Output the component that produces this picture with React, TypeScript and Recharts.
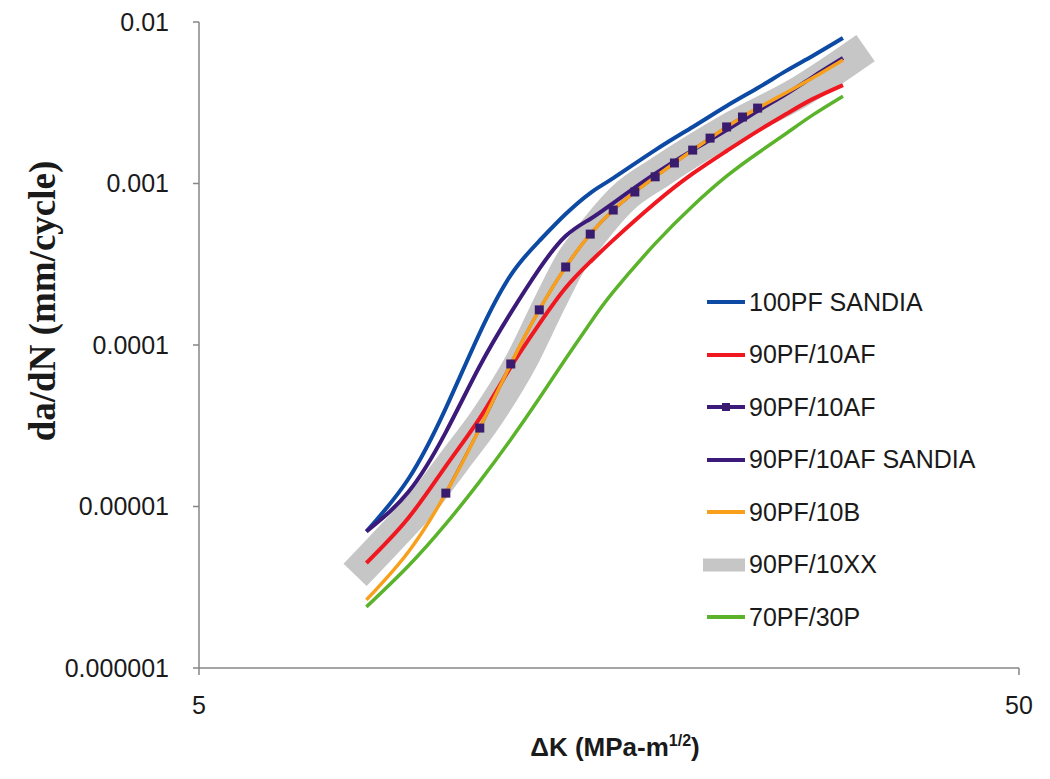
import React from 'react';
import { LineChart, Line, XAxis, YAxis, Legend } from 'recharts';

// ΔK values (MPa-m^1/2) shared by the plain curves
const kGrid = [8, 9, 10, 11, 12, 13, 14, 15, 16, 18, 20, 22, 24, 26, 28, 30.5];
const sandia100PF = [7.0e-6, 1.48e-5, 4.07e-5, 1.19e-4, 2.71e-4, 4.41e-4, 6.47e-4, 8.73e-4, 1.08e-3, 1.61e-3, 2.24e-3, 3.02e-3, 3.9e-3, 4.98e-3, 6.16e-3, 7.96e-3];
const af90PF = [4.47e-6, 8.49e-6, 1.78e-5, 3.53e-5, 7.31e-5, 1.35e-4, 2.26e-4, 3.27e-4, 4.46e-4, 7.57e-4, 1.15e-3, 1.59e-3, 2.11e-3, 2.69e-3, 3.33e-3, 4.07e-3];
const afSandia90PF = [7.0e-6, 1.23e-5, 2.89e-5, 7.41e-5, 1.58e-4, 2.96e-4, 4.73e-4, 6.03e-4, 7.57e-4, 1.15e-3, 1.61e-3, 2.14e-3, 2.81e-3, 3.58e-3, 4.56e-3, 5.98e-3];
const p70PF = [2.39e-6, 4.28e-6, 7.8e-6, 1.43e-5, 2.6e-5, 4.68e-5, 8.22e-5, 1.37e-4, 2.13e-4, 4.24e-4, 7.26e-4, 1.11e-3, 1.54e-3, 2.04e-3, 2.65e-3, 3.47e-3];

// measured points with markers
const kMarked = [10, 11, 12, 13, 14, 15, 16, 17, 18, 19, 20, 21, 22, 23, 24];
const afMarked90PF = [1.21e-5, 3.06e-5, 7.63e-5, 1.65e-4, 3.04e-4, 4.86e-4, 6.85e-4, 8.86e-4, 1.1e-3, 1.34e-3, 1.61e-3, 1.91e-3, 2.24e-3, 2.58e-3, 2.93e-3];

const kB = [8, 9, 10, 11, 12, 13, 14, 15, 16, 17, 18, 19, 20, 21, 22, 23, 24, 26, 28, 30.5];
const b90PF = [2.64e-6, 5.23e-6, 1.21e-5, 3.06e-5, 7.63e-5, 1.65e-4, 3.04e-4, 4.86e-4, 6.85e-4, 8.86e-4, 1.1e-3, 1.34e-3, 1.61e-3, 1.91e-3, 2.24e-3, 2.58e-3, 2.93e-3, 3.65e-3, 4.5e-3, 5.82e-3];

// wide grey band
const kXX = [7.75, 8.55, 9.43, 10.26, 11.16, 12.38, 13.44, 14.21, 14.99, 16.44, 18.25, 22.4, 27.0, 32.5];
const xx90PF = [3.77e-6, 6.38e-6, 1.1e-5, 1.94e-5, 3.43e-5, 8.07e-5, 1.9e-4, 3.27e-4, 4.73e-4, 8.13e-4, 1.18e-3, 2.24e-3, 3.69e-3, 6.9e-3];

const xTicks = [5, 50];
const yTicks = [0.000001, 0.00001, 0.0001, 0.001, 0.01];
const yTickLabels = ['0.000001', '0.00001', '0.0001', '0.001', '0.01'];

const toPoints = (ks: number[], vals: number[]) => ks.map((k, i) => ({ k, v: vals[i] }));

interface Series {
  id: string;
  name: string;
  data: { k: number; v: number }[];
  color: string;
  width: number;
  marker?: boolean;
  band?: boolean;
}

// drawing order (bottom first)
const series: Series[] = [
  { id: 'xx', name: '90PF/10XX', data: toPoints(kXX, xx90PF), color: '#c6c6c6', width: 32, band: true },
  { id: 's100', name: '100PF SANDIA', data: toPoints(kGrid, sandia100PF), color: '#0c4aa3', width: 4 },
  { id: 'af', name: '90PF/10AF', data: toPoints(kGrid, af90PF), color: '#f01820', width: 4 },
  { id: 'afs', name: '90PF/10AF SANDIA', data: toPoints(kGrid, afSandia90PF), color: '#3c1a7a', width: 4 },
  { id: 'afm', name: '90PF/10AF', data: toPoints(kMarked, afMarked90PF), color: '#3c1a7a', width: 3, marker: true },
  { id: 'b', name: '90PF/10B', data: toPoints(kB, b90PF), color: '#f8a01c', width: 3.5 },
  { id: 'p70', name: '70PF/30P', data: toPoints(kGrid, p70PF), color: '#5ab32a', width: 3.5 },
];

const legendOrder = ['s100', 'af', 'afm', 'afs', 'b', 'xx', 'p70'];

const SquareDot = (props: any) => {
  const { cx, cy, index } = props;
  return <rect key={`m-${index}`} x={cx - 4.5} y={cy - 4.5} width={9} height={9} fill="#3a1c6e" />;
};

const LegendBox = () => (
  <div style={{ fontFamily: '"Liberation Sans", Arial, sans-serif', fontSize: 25, color: '#1a1a1a' }}>
    {legendOrder.map((id) => {
      const s = series.find((x) => x.id === id)!;
      return (
        <div key={id} style={{ display: 'flex', alignItems: 'center', height: 52.5, whiteSpace: 'nowrap' }}>
          <svg width={44} height={20} style={{ display: 'block' }}>
            {s.band ? (
              <rect x={0} y={3.5} width={42} height={13} fill={s.color} />
            ) : (
              <line x1={4} x2={42} y1={10} y2={10} stroke={s.color} strokeWidth={4} />
            )}
            {s.marker && <rect x={19} y={6} width={8} height={8} fill="#3a1c6e" />}
          </svg>
          <span style={{ marginLeft: 2 }}>{s.name}</span>
        </div>
      );
    })}
  </div>
);

const tickStyle = { fontFamily: '"Liberation Sans", Arial, sans-serif', fontSize: 25, fill: '#1a1a1a' };

export default function App() {
  return (
    <div style={{ position: 'absolute', left: 0, top: 0, width: 1050, height: 779, background: '#fff' }}>
      <LineChart width={1050} height={779} margin={{ top: 22, right: 31, left: 0, bottom: 0 }}>
        <XAxis
          type="number"
          dataKey="k"
          scale="log"
          domain={[5, 50]}
          ticks={xTicks}
          allowDataOverflow
          height={111}
          tickSize={7}
          tickMargin={21}
          stroke="#868686"
          strokeWidth={1.5}
          tick={tickStyle}
          label={{
            content: () => (
              <text x={615} y={756} textAnchor="middle" fontFamily='"Liberation Sans", Arial, sans-serif' fontWeight="bold" fontSize={26} fill="#1a1a1a">
                ΔK (MPa-m<tspan dy={-10} fontSize={16}>1/2</tspan><tspan dy={10}>)</tspan>
              </text>
            ),
          }}
        />
        <YAxis
          type="number"
          dataKey="v"
          scale="log"
          domain={[1e-6, 1e-2]}
          ticks={yTicks}
          allowDataOverflow
          width={199}
          tickSize={6}
          tickMargin={24}
          stroke="#868686"
          strokeWidth={1.5}
          tick={tickStyle}
          tickFormatter={(v: number) => yTickLabels[yTicks.indexOf(v)] ?? String(v)}
          label={{
            content: () => (
              <text x={55} y={301} transform="rotate(-90, 55, 301)" textAnchor="middle" fontFamily='"Liberation Serif", "Times New Roman", serif' fontWeight="bold" fontSize={37} fill="#1a1a1a">
                da/dN (mm/cycle)
              </text>
            ),
          }}
        />
        <Legend
          layout="vertical"
          align="center"
          verticalAlign="middle"
          wrapperStyle={{ left: 703, top: 276, width: 320 }}
          content={() => <LegendBox />}
        />
        {series.map((s) => (
          <Line
            key={s.id}
            data={s.data}
            dataKey="v"
            name={s.name}
            type={s.band ? 'monotone' : 'natural'}
            stroke={s.color}
            strokeWidth={s.width}
            strokeLinecap="butt"
            dot={s.marker ? SquareDot : false}
            activeDot={false}
            isAnimationActive={false}
          />
        ))}
      </LineChart>
    </div>
  );
}
